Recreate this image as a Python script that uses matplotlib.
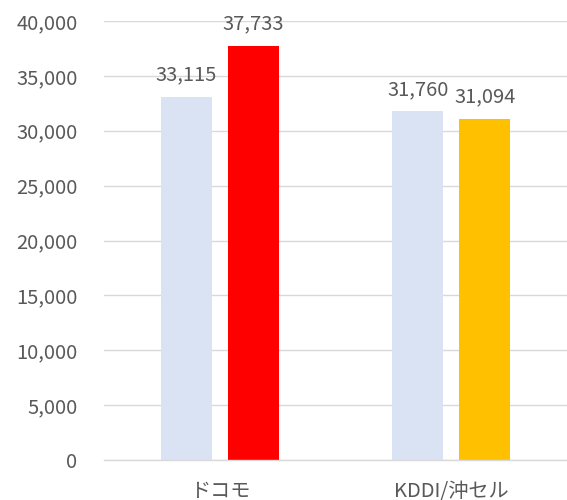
import matplotlib
matplotlib.use("Agg")
import matplotlib.pyplot as plt
from matplotlib.ticker import FuncFormatter, MultipleLocator

plt.rcParams['font.family'] = ['Noto Sans CJK JP', 'DejaVu Sans']

categories = ["ドコモ", "KDDI/沖セル"]
series_a = [33115, 31760]
series_b = [37733, 31094]
colors_a = ["#dae3f3", "#dae3f3"]
colors_b = ["#ff0000", "#ffc000"]

text_color = "#595959"
fs = 14.5
fig = plt.figure(figsize=(5.67, 5.0), dpi=100)
ax = fig.add_axes([0.1834, 0.08, 0.8166, 0.878])

x = list(range(len(categories)))
w = 0.22
off = 0.145
xa = [i - off for i in x]
xb = [i + off for i in x]
ba = ax.bar(xa, series_a, width=w, color=colors_a, zorder=3)
bb = ax.bar(xb, series_b, width=w, color=colors_b, zorder=3)

for bars, vals in ((ba, series_a), (bb, series_b)):
    for r, v in zip(bars, vals):
        ax.annotate(f"{v:,}", (r.get_x() + r.get_width() / 2, r.get_height()),
                    xytext=(0, 8), textcoords="offset points", ha="center", va="bottom",
                    fontsize=fs, color=text_color, zorder=4)

ax.set_xlim(-0.5, 1.5)
ax.set_ylim(0, 40000)
ax.yaxis.set_major_locator(MultipleLocator(5000))
ax.yaxis.set_major_formatter(FuncFormatter(lambda v, p: f"{int(v):,}"))
ax.set_xticks(x)
ax.set_xticklabels(categories)
ax.tick_params(axis="both", length=0, labelsize=fs, colors=text_color)
ax.tick_params(axis="x", pad=15)
ax.tick_params(axis="y", pad=19)
for lbl in ax.get_yticklabels():
    lbl.set_horizontalalignment("right")
ax.grid(axis="y", color="#d9d9d9", linewidth=1, zorder=0)
for s in ("top", "right", "left"):
    ax.spines[s].set_visible(False)
ax.spines["bottom"].set_color("#d9d9d9")
ax.spines["bottom"].set_linewidth(1)
ax.spines["bottom"].set_zorder(5)

fig.savefig("out.png", dpi=100)
